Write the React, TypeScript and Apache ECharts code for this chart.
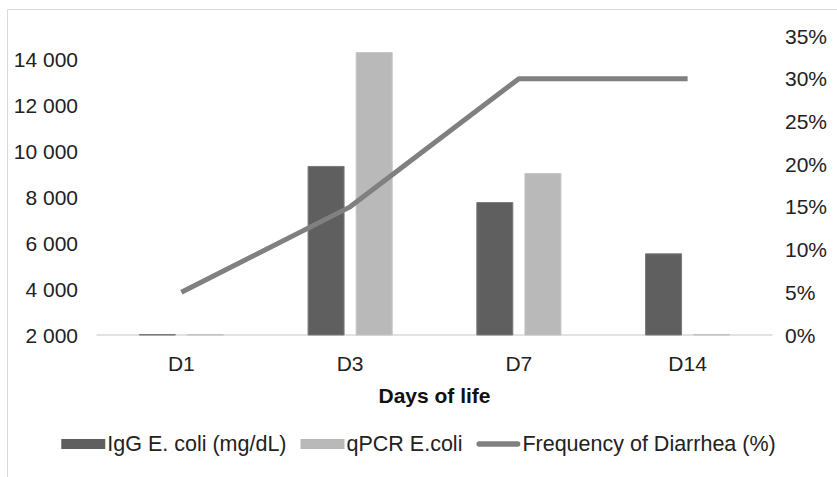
import React, { useEffect, useRef } from "react";
import * as echarts from "echarts";

const categories = ["D1", "D3", "D7", "D14"];
const iggValues = [2040, 9350, 7780, 5550];
const qpcrValues = [2040, 14300, 9040, 2040];
const diarrheaPct = [5, 15, 30, 30];
const seriesNames = ["IgG E. coli (mg/dL)", "qPCR E.coli", "Frequency of Diarrhea (%)"];

const FONT = "Liberation Sans, Arial, sans-serif";

export default function App() {
  const ref = useRef<HTMLDivElement>(null);
  useEffect(() => {
    if (!ref.current) return;
    const chart = echarts.init(ref.current, undefined, { renderer: "svg" });
    chart.setOption({
      animation: false,
      backgroundColor: "#ffffff",
      textStyle: { fontFamily: FONT },
      graphic: [
        {
          type: "rect",
          shape: { x: 7.5, y: 9.5, width: 1000, height: 800 },
          style: { fill: "none", stroke: "#d9d9d9", lineWidth: 1 },
          silent: true,
        },
      ],
      grid: { left: 97, right: 65, top: 36, bottom: 142 },
      legend: {
        bottom: 17,
        left: "center",
        itemWidth: 44,
        itemHeight: 10,
        itemGap: 14,
        textStyle: { fontSize: 21.5, color: "#222", fontFamily: FONT, padding: [0, 0, 0, -3] },
        data: [
          { name: seriesNames[0], icon: "rect", itemStyle: { borderWidth: 0 } },
          { name: seriesNames[1], icon: "rect", itemStyle: { borderWidth: 0 } },
          {
            name: seriesNames[2],
            icon: "path://M2.5,0 L37.5,0 A2.5,2.5 0 0 1 37.5,5 L2.5,5 A2.5,2.5 0 0 1 2.5,0 Z",
            itemStyle: { color: "#808080" },
          },
        ],
      },
      xAxis: {
        type: "category",
        data: categories,
        name: "Days of life",
        nameLocation: "middle",
        nameGap: 50,
        nameTextStyle: { fontSize: 21, fontWeight: "bold", color: "#111", fontFamily: FONT },
        axisLine: { lineStyle: { color: "#d9d9d9", width: 1.5 } },
        axisTick: { show: false },
        axisLabel: { fontSize: 21, color: "#222", margin: 18, fontFamily: FONT },
      },
      yAxis: [
        {
          type: "value",
          min: 2000,
          max: 15000,
          interval: 2000,
          splitLine: { show: false },
          axisLine: { show: false },
          axisTick: { show: false },
          axisLabel: {
            fontSize: 21,
            color: "#222",
            margin: 19,
            showMaxLabel: false,
            fontFamily: FONT,
            formatter: (v: number) => {
              const s = String(Math.round(v));
              return s.length > 3 ? s.slice(0, s.length - 3) + " " + s.slice(-3) : s;
            },
          },
        },
        {
          type: "value",
          min: 0,
          max: 35,
          interval: 5,
          splitLine: { show: false },
          axisLine: { show: false },
          axisTick: { show: false },
          axisLabel: { fontSize: 21, color: "#222", margin: 13, formatter: "{value}%", fontFamily: FONT },
        },
      ],
      series: [
        {
          name: seriesNames[0],
          type: "bar",
          data: iggValues,
          barWidth: 37,
          barGap: "30%",
          itemStyle: { color: "#5f5f5f", borderColor: "#7a7a7a", borderWidth: 1 },
        },
        {
          name: seriesNames[1],
          type: "bar",
          data: qpcrValues,
          barWidth: 37,
          barGap: "30%",
          itemStyle: { color: "#b9b9b9", borderColor: "#c4c4c4", borderWidth: 1 },
        },
        {
          name: seriesNames[2],
          type: "line",
          yAxisIndex: 1,
          data: diarrheaPct,
          symbol: "none",
          lineStyle: { color: "#808080", width: 5 },
          itemStyle: { color: "#808080" },
        },
      ],
    });
    return () => chart.dispose();
  }, []);
  return (
    <div
      ref={ref}
      style={{ position: "fixed", left: 0, top: 0, width: 837, height: 477 }}
    />
  );
}
